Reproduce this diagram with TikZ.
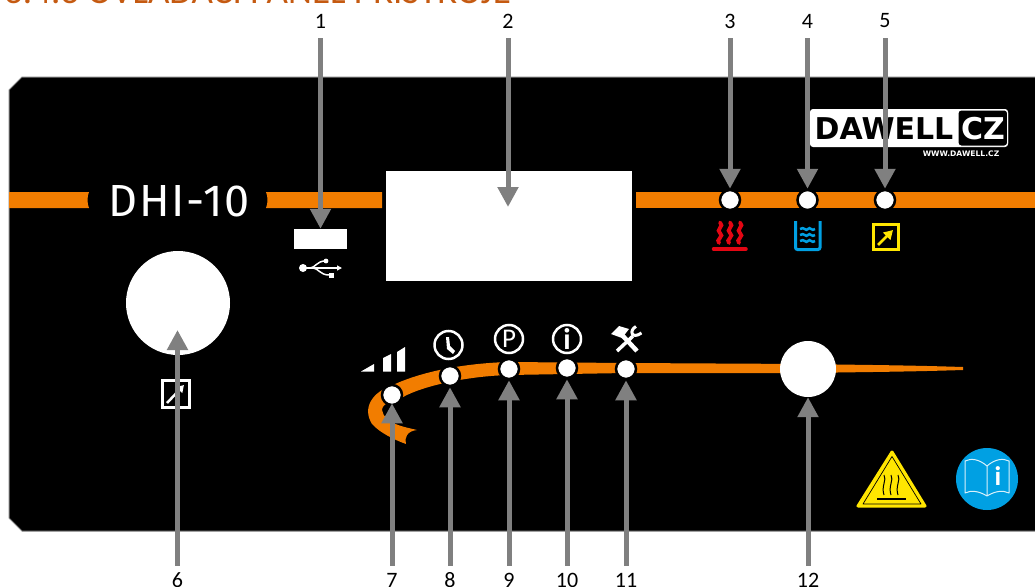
\documentclass[tikz,border=0pt]{standalone}
\usepackage{fontspec}
\setmainfont{Carlito}
\newfontfamily\modelfont[LetterSpace=4]{Fira Sans}
\newfontfamily\logofont{DejaVu Sans}
\usetikzlibrary{arrows.meta}
\definecolor{bandorange}{RGB}{242,125,0}
\definecolor{titleorange}{RGB}{197,90,17}
\definecolor{pointergray}{RGB}{128,128,128}
\definecolor{iconblue}{RGB}{0,160,227}
\definecolor{iconyellow}{RGB}{255,230,0}
\definecolor{iconred}{RGB}{227,6,19}
\tikzset{
  pointer/.style={draw=pointergray,line width=5pt,-{Triangle[length=20pt,width=20pt]}},
  numtop/.style={inner sep=0pt,minimum height=34pt,font=\fontsize{22}{22}\selectfont},
  numbottom/.style={inner sep=0pt,minimum height=28pt,font=\fontsize{22}{22}\selectfont},
  led/.style={circle,fill=white,draw=black,line width=2.5pt,minimum size=20pt,inner sep=0pt},
  whitepart/.style={fill=white,inner sep=0pt},
  ringicon/.style={draw=white,line width=2.5pt},
  heatline/.style={draw=iconred,line width=3.8pt,line cap=round},
}
\begin{document}
\begin{tikzpicture}[x=1pt,y=-1pt]
  \useasboundingbox (0,0) rectangle (1035,586);
  \clip (0,0) rectangle (1035,586);
  \fill[white] (0,0) rectangle (1035,586);
  \node[anchor=base west,inner sep=0pt,text=titleorange,font=\fontsize{37}{37}\selectfont] (title) at (4,3.5) {3.4.3 OVLÁDACÍ PANEL PŘÍSTROJE};
  % panel and orange bands
  \draw[draw=pointergray,line width=1pt,fill=black] (1036,77) -- (22,77) -- (9,90) -- (9,518) -- (22,531) -- (1036,531);
  \fill[bandorange] (9,192) -- (89,192) .. controls (87,197) and (87,203) .. (89,208) -- (9,208) -- cycle;
  \fill[bandorange] (266,192) .. controls (268,197) and (268,203) .. (266,208) -- (382,208) -- (382,192) -- cycle;
  \fill[bandorange] (636,192) -- (1035,192) -- (1035,208) -- (636,208) -- cycle;
  \fill[bandorange] (963,367) .. controls (900,365) and (860,365) .. (807,364) -- (626,363) -- (509,362)
    .. controls (470,363) and (425,370) .. (393,385) .. controls (372,392) and (362,408) .. (372,424)
    .. controls (380,433) and (395,440) .. (406,444) .. controls (404,438) and (407,431) .. (417,430)
    .. controls (405,427) and (384,424) .. (382,410) .. controls (382,404) and (392,400) .. (403,397)
    .. controls (425,385) and (470,376) .. (509,375) -- (626,373) -- (807,373) .. controls (860,372) and (900,372) .. (963,370) -- cycle;
  \node[text=white,font=\modelfont\fontsize{45}{45}\selectfont,inner sep=0pt] (model) at (179,201) {DHI-10};
  % white parts
  \node[whitepart,minimum width=246pt,minimum height=110pt] (display) at (509,226) {};
  \node[whitepart,minimum width=53pt,minimum height=20pt] (usb) at (320.5,239) {};
  \node[whitepart,circle,minimum size=104pt] (knob) at (178,303) {};
  \node[whitepart,circle,minimum size=56pt] (dial) at (808,369) {};
  \foreach \n/\x in {3/730,4/807.5,5/885}
    \node[led] (led\n) at (\x,200) {};
  \foreach \n/\x/\y in {7/392/395,8/450/376,9/509/369,10/567/368,11/626/369}
    \node[led] (led\n) at (\x,\y) {};
  % logo
  \fill[white,rounded corners=3pt] (810,109) -- (1008,109) -- (1008,147) -- (810,147) -- cycle;
  \draw[white,line width=1pt,fill=black,rounded corners=3pt] (958,110) -- (1007.5,110) -- (1007.5,146) -- (958,146) -- cycle;
  \node[font=\logofont\bfseries\fontsize{30}{30}\selectfont,text=black,inner sep=0pt] (logoname) at (884,128.5) {DAWELL};
  \node[font=\logofont\bfseries\fontsize{30}{30}\selectfont,text=white,inner sep=0pt] (logocz) at (983,128.5) {CZ};
  \node[font=\logofont\bfseries\fontsize{7.6}{8}\selectfont,text=white,inner sep=0pt] (logoweb) at (961,154) {WWW.DAWELL.CZ};
  % usb symbol
  \fill[white] (303,268) circle (4);
  \draw[white,line width=1.5pt,-{Triangle[length=5pt,width=5pt]}] (303,268) -- (342,268);
  \draw[white,line width=1.5pt] (310,268) .. controls (315,268) and (317,261) .. (325,261);
  \draw[white,line width=1.5pt] (313,268) .. controls (318,268) and (320,275) .. (329,275);
  \fill[white] (326,261) circle (2.4);
  \fill[white] (329,272.5) rectangle (334,277.5);
  % icons above the leds
  \foreach \x in {720,730,740}
    \draw[heatline] (\x,222.5) .. controls (\x+5,226) and (\x-5,230) .. (\x,233) .. controls (\x+5,236) and (\x-5,240) .. (\x-1,243);
  \draw[iconred,line width=3.5pt,line cap=round] (713.5,249) -- (746,249);
  \draw[iconblue,line width=3pt,rounded corners=2pt] (795.5,221) -- (795.5,249.5) -- (820,249.5) -- (820,221);
  \foreach \y in {229,235,241}
    \draw[iconblue,line width=2.5pt] (800,\y) .. controls (804,\y-3) and (806,\y+3) .. (808,\y) .. controls (810,\y-3) and (812,\y+3) .. (815,\y);
  \draw[iconyellow,line width=3pt] (873.5,224.5) rectangle (898.5,249);
  \draw[iconyellow,line width=2.5pt,-{Triangle[length=9pt,width=10pt]}] (878,245) -- (893,230);
  % icon under the knob
  \draw[white,line width=3pt] (162,380.5) rectangle (189.5,407.5);
  \draw[white,line width=2.5pt,-{Triangle[length=7pt,width=8pt]}] (167,403) -- (184,385);
  % icons above the lower leds
  \fill[white] (361,371.5) -- (374,364) -- (374,371.5) -- cycle;
  \fill[white] (383,371.5) -- (383,358) -- (391,354) -- (391,371.5) -- cycle;
  \fill[white] (397,371.5) -- (397,352) -- (405,347) -- (405,371.5) -- cycle;
  \draw[ringicon] (448.5,345) circle (14);
  \fill[white] (446,337) -- (449,337) -- (450,346) -- (455,351) -- (453,354) -- (447,349) -- cycle;
  \node[ringicon,circle,minimum size=28pt,inner sep=0pt,text=white,font=\fontsize{27}{27}\selectfont] (parking) at (509,339) {P};
  \node[ringicon,circle,minimum size=28pt,inner sep=0pt,text=white,font=\bfseries\fontsize{30}{30}\selectfont] (info) at (567,339) {i};
  \draw[white,line width=4.5pt] (622,335) -- (637,351);
  \fill[white] (611,334) -- (619,326) -- (629,329) -- (622,338) -- cycle;
  \draw[white,line width=3.5pt] (617,351) -- (633,336);
  \draw[white,line width=3pt] (636,326.5) .. controls (629,330) and (631,340) .. (641.5,333);
  % warning signs
  \draw[iconyellow,line width=3pt,line join=round,fill=iconyellow] (892,452) -- (925,506) -- (858,506) -- cycle;
  \draw[black,line width=0.7pt,line join=round] (892,456.5) -- (921,504) -- (863,504) -- cycle;
  \foreach \x in {884,891,898}
    \draw[black,line width=1pt] (\x,475) .. controls (\x+3,480) and (\x-3,486) .. (\x,495);
  \draw[black,line width=1.2pt] (877,499) -- (906,499);
  \fill[iconblue] (987,479) circle (31);
  \draw[white!85!iconblue,line width=1pt,line join=round] (987,466) .. controls (979,459) and (971,458) .. (965,461) -- (965,493) .. controls (971,490) and (979,491) .. (987,496) .. controls (995,491) and (1003,490) .. (1009,493) -- (1009,461) .. controls (1003,458) and (995,459) .. (987,466) -- cycle (987,466) -- (987,496);
  \node[text=white,inner sep=0pt,font=\bfseries\fontsize{27}{27}\selectfont] (bookinfo) at (998,476) {i};
  % numbers and pointers
  \foreach \n/\x in {1/320.5,2/508,3/730,4/807.5,5/885}
    \node[numtop] (num\n) at (\x,21) {\n};
  \foreach \n/\x in {6/177.5,7/392,8/450,9/509,10/567,11/626,12/808}
    \node[numbottom] (num\n) at (\x,580) {\n};
  \coordinate (displaytip) at (508,207);
  \coordinate (knobtip) at (177.5,330);
  \draw[pointer] (num1.south) -- (usb.north);
  \draw[pointer] (num2.south) -- (displaytip);
  \foreach \n in {3,4,5}
    \draw[pointer] (num\n.south) -- (led\n.north);
  \draw[pointer] (num6.north) -- (knobtip);
  \draw[pointer,shorten >=-3pt] (num7.north) -- (led7.south);
  \foreach \n in {8,9,10,11}
    \draw[pointer] (num\n.north) -- (led\n.south);
  \draw[pointer] (num12.north) -- (dial.south);
\end{tikzpicture}
\end{document}
